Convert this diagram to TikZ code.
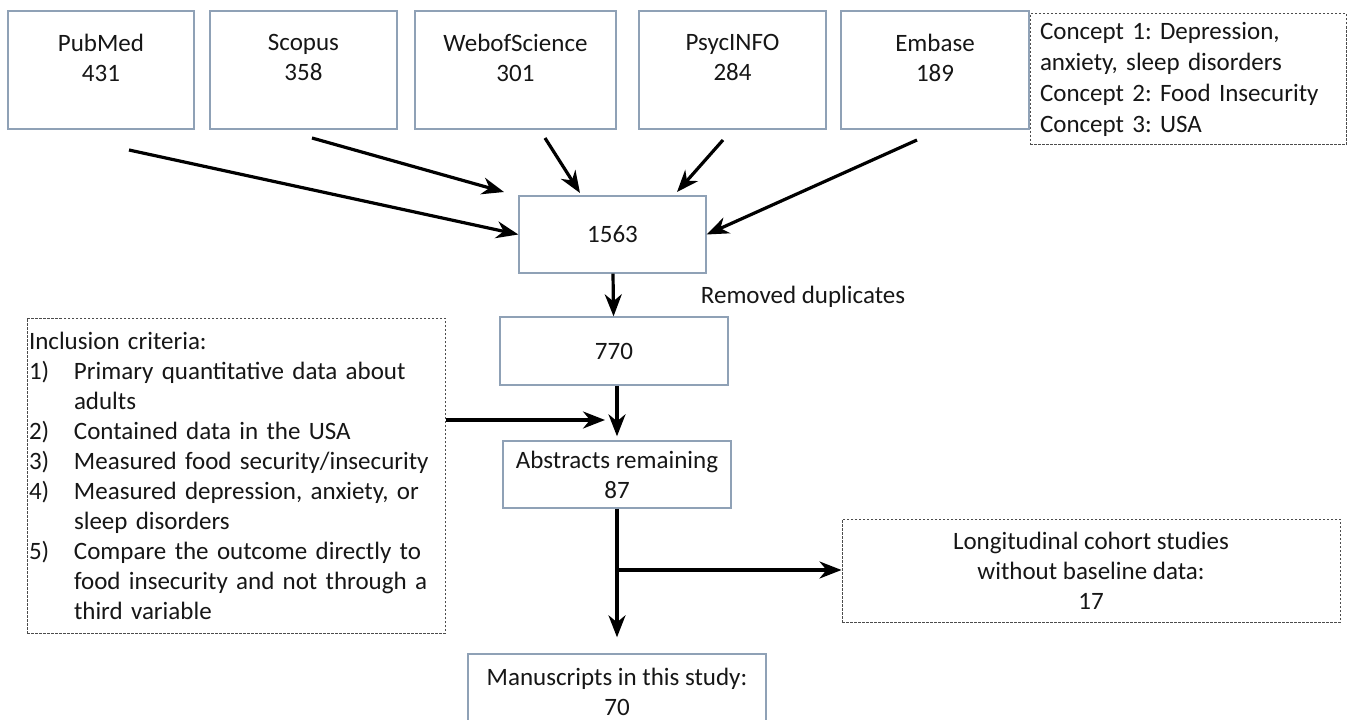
\documentclass[tikz,border=0pt]{standalone}
\usepackage{fontspec}
\setmainfont{Carlito}
\usetikzlibrary{arrows.meta}
\definecolor{boxc}{HTML}{8FA1B6}
\definecolor{txt}{HTML}{161616}
\tikzset{
  box/.style={draw=boxc, line width=1.4pt, align=center, inner sep=0pt},
  dbox/.style={draw=black!70, line width=1pt, dash pattern=on 2.5pt off 1.5pt, inner sep=0pt},
  srclbl/.style={anchor=north, align=center, yshift=-20pt},
  arr/.style={line width=3.2pt, -{Stealth[length=22pt,width=17pt,inset=7pt]}},
}
\newcommand{\crit}[2]{\makebox[45pt][l]{#1}#2}

\begin{document}
\frenchspacing
\begin{tikzpicture}[x=1pt, y=-1pt, font=\fontsize{25}{30}\selectfont, text=txt]
        \useasboundingbox (0,0) rectangle (1347,720);

        % databases
        \node[box, minimum width=186pt, minimum height=118pt, label={[srclbl]north:PubMed\\431}] (pubmed) at (101,70) {};
        \node[box, minimum width=187pt, minimum height=118pt, label={[srclbl]north:Scopus\\358}] (scopus) at (303.5,70) {};
        \node[box, minimum width=201pt, minimum height=118pt, label={[srclbl]north:WebofScience\\301}] (wos) at (515.5,70) {};
        \node[box, minimum width=187pt, minimum height=118pt, label={[srclbl]north:PsycINFO\\284}] (psyc) at (732.5,70) {};
        \node[box, minimum width=188pt, minimum height=118pt, label={[srclbl]north:Embase\\189}] (embase) at (935,70) {};
        \node[dbox, minimum width=316pt, minimum height=131pt, text width=296pt, align=left, font=\fontsize{25}{31}\selectfont] (concepts) at (1188,79) {Concept 1: Depression,\\anxiety, sleep disorders\\Concept 2: Food Insecurity\\Concept 3: USA};

        % screening
        \node[box, minimum width=187pt, minimum height=77pt] (total) at (612.5,234.5) {1563};
        \node (dup) at (803,297) {Removed duplicates};
        \node[box, minimum width=228pt, minimum height=68pt] (dedup) at (614,351) {770};
        \node[dbox, minimum width=418pt, minimum height=315pt, text width=414pt, align=left] (incl) at (236,475.5) {Inclusion criteria:\\
            \crit{1)}{Primary quantitative data about}\\
            \crit{}{adults}\\
            \crit{2)}{Contained data in the USA}\\
            \crit{3)}{Measured food security/insecurity}\\
            \crit{4)}{Measured depression, anxiety, or}\\
            \crit{}{sleep disorders}\\
            \crit{5)}{Compare the outcome directly to}\\
            \crit{}{food insecurity and not through a}\\
            \crit{}{third variable}};
        \node[box, minimum width=228pt, minimum height=67pt] (abstr) at (617,474.5) {Abstracts remaining\\87};
        \node[dbox, minimum width=498pt, minimum height=103pt] (excl) at (1091,570.5) [align=center] {Longitudinal cohort studies\\without baseline data:\\17};
        \node[box, minimum width=298pt, minimum height=76pt] (final) at (617,692) {Manuscripts in this study:\\70};

        % arrows
        \coordinate (pubmedS) at (129,150);
        \coordinate (scopusS) at (312,138);
        \coordinate (scopusE) at (504,192);
        \coordinate (wosS) at (545,138);
        \coordinate (wosE) at (580,193);
        \coordinate (psycS) at (723,140);
        \coordinate (psycE) at (677,192);
        \coordinate (embaseS) at (917,140);
        \coordinate (inclE) at (605,420);
        \coordinate (split) at (617,570);

        \draw[arr] (pubmedS) -- (total.west);
        \draw[arr] (scopusS) -- (scopusE);
        \draw[arr] (wosS) -- (wosE);
        \draw[arr] (psycS) -- (psycE);
        \draw[arr] (embaseS) -- (total.east);
        \draw[arr] (total) -- (dedup);
        \draw[arr, shorten >=4pt] (dedup.south -| abstr.north) -- (abstr.north);
        \draw[arr] (incl.east |- inclE) -- (inclE);
        \draw[arr, shorten >=16pt] (abstr) -- (final);
        \draw[arr] (split) -- (split -| excl.west);
    \end{tikzpicture}
\end{document}
